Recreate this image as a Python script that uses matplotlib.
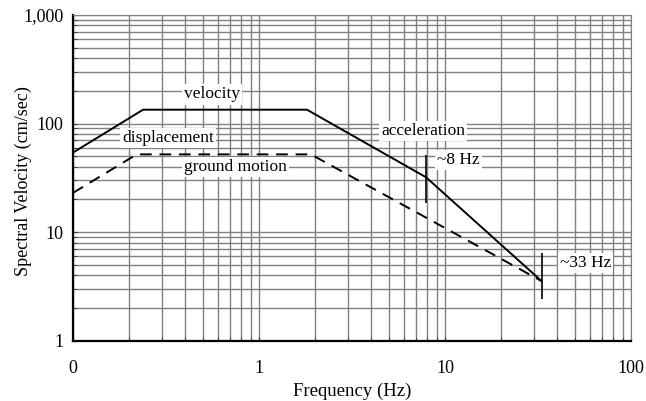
import matplotlib
matplotlib.use('Agg')
import matplotlib.pyplot as plt
from matplotlib.ticker import FixedLocator, FixedFormatter, LogLocator, NullFormatter

plt.rcParams['font.family'] = ['Liberation Serif', 'DejaVu Serif']

# response spectrum (solid) and ground motion (dashed)
spec_f = [0.1, 0.238, 1.81, 7.9, 33.0]
spec_v = [54, 134, 134, 32, 3.55]
gm_f = [0.1, 0.22, 1.9, 33.0]
gm_v = [23, 52, 52, 3.55]

# marker ticks at ~8 Hz and ~33 Hz
mark_f = [7.9, 33.0]
mark_lo = [18.5, 2.43]
mark_hi = [51, 6.4]

xticks = [0.1, 1, 10, 100]
xlabels = ['0', '1', '10', '100']
yticks = [1, 10, 100, 1000]
ylabels = ['1', '10', '100', '1,000']

fig = plt.figure(figsize=(6.46, 4.01), dpi=100)
ax = fig.add_axes([0.113, 0.150, 0.864, 0.813])
ax.set_xscale('log')
ax.set_yscale('log')
ax.set_xlim(0.1, 100)
ax.set_ylim(1, 1000)

ax.xaxis.set_major_locator(FixedLocator(xticks))
ax.xaxis.set_major_formatter(FixedFormatter(xlabels))
ax.yaxis.set_major_locator(FixedLocator(yticks))
ax.yaxis.set_major_formatter(FixedFormatter(ylabels))
ax.xaxis.set_minor_locator(LogLocator(base=10, subs=range(2, 10)))
ax.yaxis.set_minor_locator(LogLocator(base=10, subs=range(2, 10)))
ax.xaxis.set_minor_formatter(NullFormatter())
ax.yaxis.set_minor_formatter(NullFormatter())
ax.grid(True, which='both', color='#808080', lw=1.0)
ax.tick_params(which='both', direction='in', length=3, color='#333333', labelsize=13)
ax.tick_params(axis='x', pad=14)
ax.tick_params(axis='y', pad=7)
for s in ['top', 'right']:
    ax.spines[s].set_color('#808080')
for s in ['left', 'bottom']:
    ax.spines[s].set_linewidth(1.6)

ax.plot(spec_f, spec_v, color='black', lw=1.4)
ax.plot(gm_f, gm_v, color='black', lw=1.4, ls=(0, (6, 4)))
ax.vlines(mark_f, mark_lo, mark_hi, color='black', lw=1.2)

box = dict(facecolor='white', edgecolor='none', pad=1.5)
ax.text(0.56, 185, 'velocity', fontsize=12.5, ha='center', va='center', bbox=box)
ax.text(0.324, 74, 'displacement', fontsize=12.5, ha='center', va='center', bbox=box)
ax.text(0.75, 40, 'ground motion', fontsize=12.5, ha='center', va='center', bbox=box)
ax.text(7.6, 86, 'acceleration', fontsize=12.5, ha='center', va='center', bbox=box)
ax.text(11.8, 46, '~8 Hz', fontsize=12.5, ha='center', va='center', bbox=box)
ax.text(57, 5.2, '~33 Hz', fontsize=12.5, ha='center', va='center', bbox=box)

ax.set_xlabel('Frequency (Hz)', fontsize=13.5, labelpad=4)
ax.set_ylabel('Spectral Velocity (cm/sec)', fontsize=13)
ax.yaxis.set_label_coords(-0.074, 0.49)

fig.savefig('out.png', dpi=100)
